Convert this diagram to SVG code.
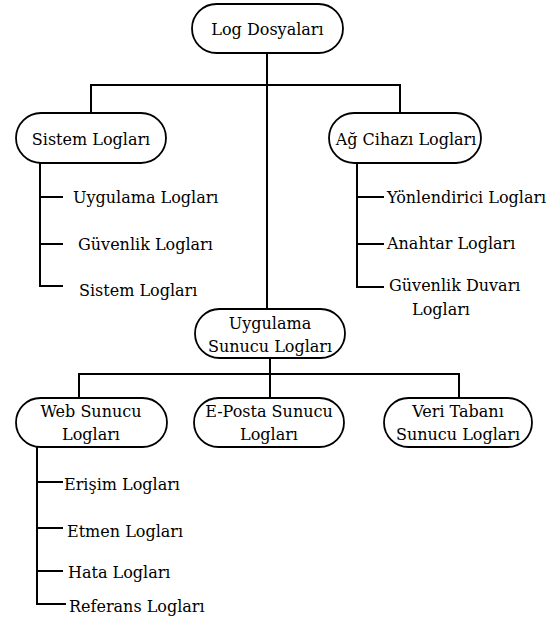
<svg xmlns="http://www.w3.org/2000/svg" width="554" height="623" viewBox="0 0 554 623">
<style>
.node rect{fill:#fff;stroke:#000;stroke-width:1.8}
text{font-family:'DejaVu Serif','Liberation Serif',serif;font-size:16px;fill:#000}
.c{text-anchor:middle}
#connectors path{fill:none;stroke:#000;stroke-width:2}
</style>
<rect width="554" height="623" fill="#fff"/>
<g id="connectors">
<path d="M267 53V309"/>
<path d="M91 113V85H400V113"/>
<path d="M40 163V286H63M40 197H63M40 244H63"/>
<path d="M357 163V287H384M357 197H384M357 244H384"/>
<path d="M270 358V398"/>
<path d="M79 398V374H459V398"/>
<path d="M37 447V604H66M37 482H63M37 528H63M37 571H63"/>
</g>
<g id="n-log" class="node"><rect x="192" y="4" width="151" height="49" rx="24.5"/><text class="c" x="267.5" y="35">Log Dosyaları</text></g>
<g id="n-sistem" class="node"><rect x="16" y="113" width="150" height="50" rx="25"/><text class="c" x="91" y="145">Sistem Logları</text></g>
<g id="n-ag" class="node"><rect x="329" y="113" width="152" height="50" rx="25"/><text class="c" x="406" y="145">Ağ Cihazı Logları</text></g>
<g id="n-uyg" class="node"><rect x="195" y="309" width="150" height="49" rx="24.5"/><text class="c" x="270" y="329">Uygulama</text><text class="c" x="270" y="352">Sunucu Logları</text></g>
<g id="n-web" class="node"><rect x="16" y="398" width="151" height="49" rx="24.5"/><text class="c" x="91" y="417">Web Sunucu</text><text class="c" x="91" y="440">Logları</text></g>
<g id="n-eposta" class="node"><rect x="194" y="398" width="150" height="49" rx="24.5"/><text class="c" x="269" y="417">E-Posta Sunucu</text><text class="c" x="269" y="440">Logları</text></g>
<g id="n-veri" class="node"><rect x="384" y="398" width="148" height="49" rx="24.5"/><text class="c" x="458" y="417">Veri Tabanı</text><text class="c" x="458" y="440">Sunucu Logları</text></g>
<g id="l-uyg"><text x="73" y="203">Uygulama Logları</text></g>
<g id="l-guv"><text x="78" y="250">Güvenlik Logları</text></g>
<g id="l-sis"><text x="79" y="296">Sistem Logları</text></g>
<g id="l-yon"><text x="387" y="203">Yönlendirici Logları</text></g>
<g id="l-ana"><text x="387" y="249">Anahtar Logları</text></g>
<g id="l-gdv"><text x="389" y="291">Güvenlik Duvarı</text><text class="c" x="441" y="315">Logları</text></g>
<g id="l-eri"><text x="64" y="490">Erişim Logları</text></g>
<g id="l-etm"><text x="67" y="537">Etmen Logları</text></g>
<g id="l-hat"><text x="68" y="578">Hata Logları</text></g>
<g id="l-ref"><text x="69" y="612">Referans Logları</text></g>
</svg>
